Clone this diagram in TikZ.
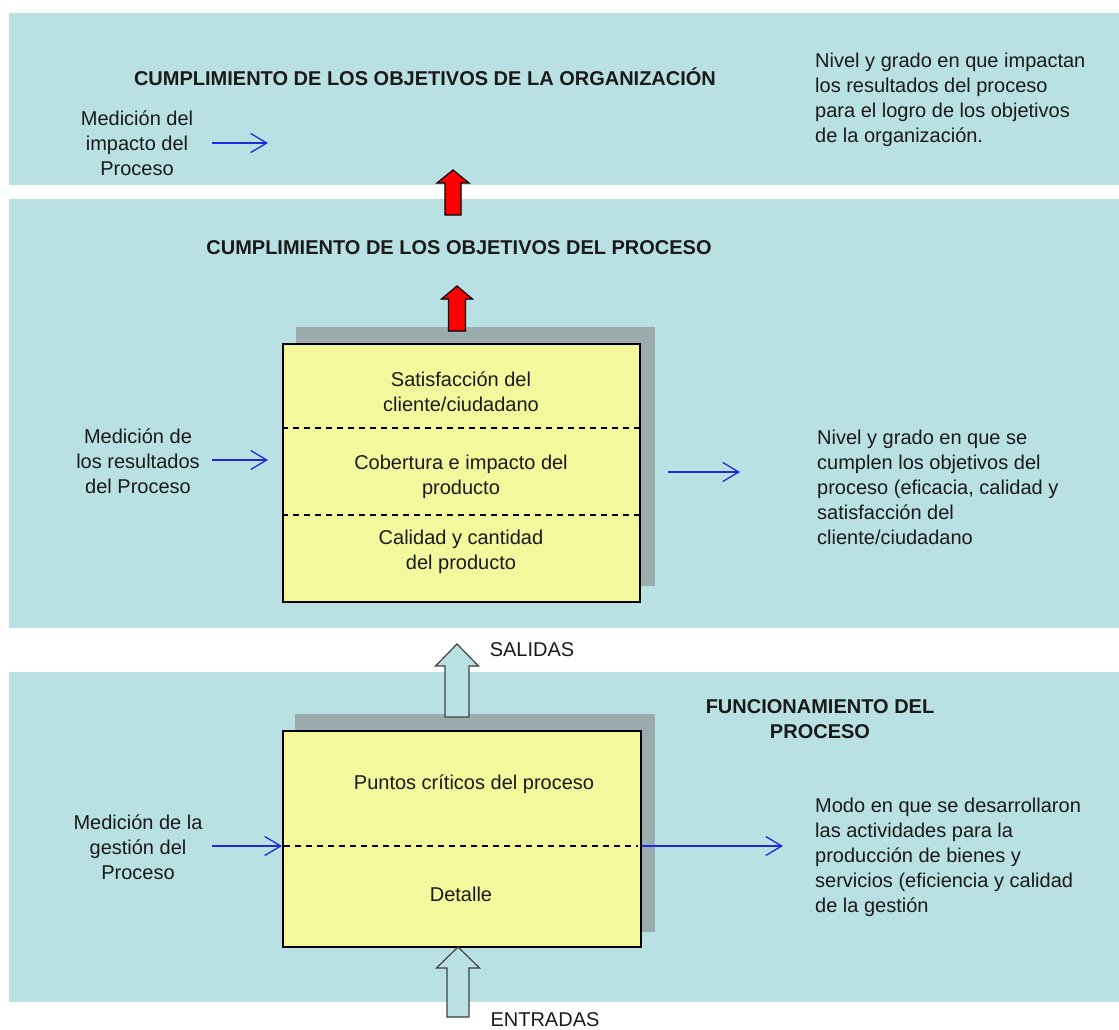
\documentclass[tikz,border=0pt]{standalone}
\usepackage{fontspec}
\setmainfont{Liberation Sans}
\usetikzlibrary{positioning, arrows.meta, calc}
\definecolor{bandCyan}{HTML}{B9E0E3}
\definecolor{boxYellow}{HTML}{F4F89C}
\definecolor{shadowGray}{HTML}{9BABAE}
\definecolor{flowBlue}{HTML}{1E2BDC}
\definecolor{upRed}{HTML}{FF0000}
\definecolor{inkDark}{HTML}{1A1A1A}
% block arrow pointing up: style, x, tip, head base, bottom, half head, half shaft
\newcommand{\upblock}[7]{\draw[#1] (#2,#3) -- (#2+#6,#4) -- (#2+#7,#4) -- (#2+#7,#5)
  -- (#2-#7,#5) -- (#2-#7,#4) -- (#2-#6,#4) -- cycle;}

\begin{document}
\begin{tikzpicture}[
  x=1pt, y=-1pt,
  font=\fontsize{20}{25}\selectfont, text=inkDark,
  band/.style={rectangle, fill=bandCyan, inner sep=0, anchor=north west},
  card/.style={rectangle, fill=boxYellow, draw=black, line width=1.5pt, inner sep=0, anchor=north west},
  shade/.style={rectangle, fill=shadowGray, inner sep=0, anchor=north west},
  lbl/.style={align=center, inner sep=0},
  note/.style={align=left, anchor=west, inner sep=0},
  ttl/.style={font=\fontsize{20}{25}\selectfont\bfseries, align=center, inner sep=0},
  meas/.style={draw=flowBlue, line width=1.3pt, -{Straight Barb[length=16pt, width=19pt]}},
  sep/.style={dash pattern=on 6pt off 5pt, line width=1.3pt},
  redup/.style={fill=upRed, draw=black, line width=1.2pt},
  cyanup/.style={fill=bandCyan, draw=black!75, line width=1.2pt},
]
\fill[white] (0,0) rectangle (1119,1030);
\useasboundingbox (0,0) rectangle (1119,1030);

% ===== bands ================================================================
\node[band, minimum width=1110, minimum height=172] (orgband) at (9,13) {};
\node[band, minimum width=1110, minimum height=429] (resband) at (9,199) {};
\node[band, minimum width=1110, minimum height=330] (gesband) at (9,672) {};

% ===== 1) organisation objectives ==========================================
\node[ttl] (orgt) at (425,77) {CUMPLIMIENTO DE LOS OBJETIVOS DE LA ORGANIZACIÓN};
\node[lbl] (impl) at (137,143) {Medición del\\impacto del\\Proceso};
\node[note] (impn) at (815,100)
  {Nivel y grado en que impactan\\los resultados del proceso\\para el logro  de los objetivos\\de  la organización.};
\coordinate (impA) at (212,143);
\coordinate (impB) at (268,143);
\draw[meas] (impA) -- (impB);

% ===== 2) process objectives ===============================================
\node[ttl] (proct) at (459,248) {CUMPLIMIENTO DE LOS OBJETIVOS DEL PROCESO};
\node[shade, minimum width=359, minimum height=259] (resshade) at (296,327) {};
\node[card, minimum width=357, minimum height=258] (resbox) at (282,343) {};
\draw[sep] (282,428) -- (639,428);
\draw[sep] (282,515) -- (639,515);
\node[lbl] (sat) at (461,392) {Satisfacción del\\cliente/ciudadano};
\node[lbl] (cob) at (461,477) {Cobertura e impacto del\\producto};
\node[lbl] (cal) at (461,552) {Calidad y cantidad\\del producto};
\node[lbl] (resl) at (138,461) {Medición de\\los resultados\\del Proceso};
\node[note] (resn) at (817,487)
  {Nivel y grado en que se\\cumplen los objetivos del\\proceso (eficacia, calidad y\\satisfacción del\\cliente/ciudadano};
\coordinate (resA) at (212,460);
\coordinate (resB) at (268,460);
\coordinate (resC) at (668,472);
\coordinate (resD) at (740,472);
\draw[meas] (resA) -- (resB);
\draw[meas] (resC) -- (resD);

% ===== 3) process operation ================================================
\node[ttl] (funt) at (820,719) {FUNCIONAMIENTO DEL\\PROCESO};
\node[shade, minimum width=360, minimum height=218] (gesshade) at (295,714) {};
\node[card, minimum width=358, minimum height=216] (gesbox) at (282,730) {};
\draw[sep] (284,846) -- (638,846);
\node[lbl] (ptos) at (474,784) {Puntos críticos del proceso};
\node[lbl] (det) at (461,894) {Detalle};
\node[lbl] (gesl) at (138,847) {Medición de la\\gestión del\\Proceso};
\node[note] (gesn) at (815,857)
  {Modo en que se desarrollaron\\las actividades para la\\producción de bienes y\\servicios (eficiencia y calidad\\de la gestión};
\coordinate (gesA) at (212,846);
\coordinate (gesB) at (783,846);
\draw[meas] (gesA) -- (gesbox.west |- gesA);
\draw[meas] (gesbox.east |- gesA) -- (gesB);

% ===== block arrows =========================================================
\upblock{redup}{453}{170}{183}{215}{16}{8}
\upblock{redup}{457}{286}{299}{331}{15.5}{8.5}
\upblock{cyanup}{457}{644}{666}{717}{21.5}{12}
\upblock{cyanup}{458}{947}{968}{1017}{21.5}{11}
\node[lbl] (sal) at (532,650) {SALIDAS};
\node[lbl] (ent) at (545,1020) {ENTRADAS};

\end{tikzpicture}
\end{document}
